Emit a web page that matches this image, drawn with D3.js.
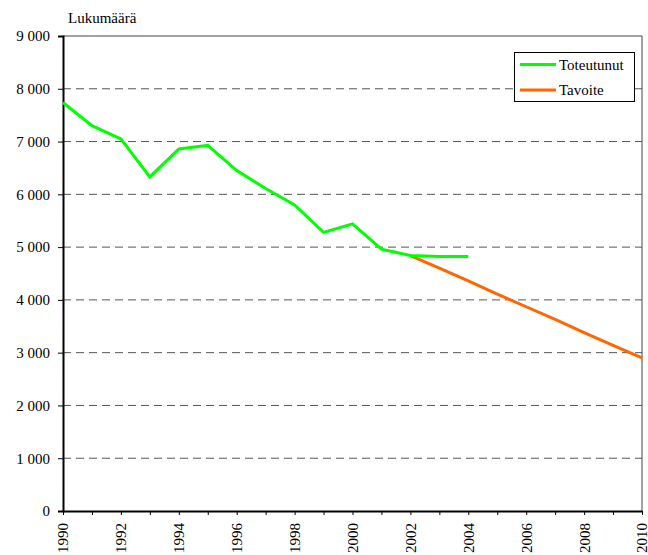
<!DOCTYPE html>
<html><head><meta charset="utf-8">
<script src="https://cdn.jsdelivr.net/npm/d3@7"></script>
<style>body{margin:0;background:#fff}svg{display:block}</style>
</head><body><svg id="c" width="648" height="555"></svg>
<script>
const actualYears = [1990,1991,1992,1993,1994,1995,1996,1997,1998,1999,2000,2001,2002,2003,2004];
const actualValues = [7740,7300,7050,6330,6860,6930,6450,6110,5800,5280,5440,4960,4840,4820,4820];
const targetYears = [2002,2003,2004,2005,2006,2007,2008,2009,2010];
const targetValues = [4840,4600,4360,4110,3870,3630,3380,3140,2900];
const yTicks = [0,1000,2000,3000,4000,5000,6000,7000,8000,9000];
const xTickLabels = [1990,1992,1994,1996,1998,2000,2002,2004,2006,2008,2010];
const seriesNames = ["Toteutunut","Tavoite"];
const seriesColors = ["#00ff00","#ff6600"];

const FONT = "'Liberation Serif'";
const svg = d3.select("#c");
const L=63, R=642, T=36, B=511;
const x = d3.scaleLinear().domain([1990,2010]).range([L,R]);
const y = d3.scaleLinear().domain([0,9000]).range([B,T]);
const fmt = v => v===0 ? "0" : d3.format(",")(v).replace(/,/g," ");

// gridlines
svg.append("g").selectAll("line").data(yTicks.filter(v=>v>0&&v<9000)).join("line")
  .attr("x1",L).attr("x2",R).attr("y1",d=>y(d)).attr("y2",d=>y(d))
  .attr("stroke","#555").attr("stroke-width",1).attr("stroke-dasharray","8,5");
// plot border top/right
svg.append("path").attr("d",`M${L},${T}H${R}V${B}`).attr("fill","none").attr("stroke","#444").attr("stroke-width",1);

// y axis
const ya = svg.append("g").attr("transform",`translate(${L},0)`)
  .call(d3.axisLeft(y).tickValues(yTicks).tickFormat(fmt).tickSize(5).tickPadding(8));
ya.attr("font-family",FONT).attr("font-size",15);
ya.select(".domain").attr("stroke","#000").attr("stroke-width",2);
ya.selectAll(".tick line").attr("stroke","#000");
ya.selectAll("text").style("font-family",FONT).style("font-size","15px").attr("fill","#000");

// x axis
const xa = svg.append("g").attr("transform",`translate(0,${B})`)
  .call(d3.axisBottom(x).tickValues(d3.range(1990,2011)).tickFormat(d=>xTickLabels.includes(d)?String(d):"").tickSize(4).tickSizeOuter(0));
xa.attr("font-family",FONT).attr("font-size",15);
xa.select(".domain").attr("stroke","#000").attr("stroke-width",2);
xa.selectAll(".tick line").attr("stroke","#000");
xa.selectAll("text").style("font-family",FONT).style("font-size","15px").attr("fill","#000")
  .attr("transform","rotate(-90)").attr("text-anchor","end").attr("x",-12).attr("y",0).attr("dy","0.33em");

// title
svg.append("text").attr("x",68).attr("y",23).style("font-family",FONT).style("font-size","15px").attr("fill","#000").text("Lukumäärä");

const line = d3.line().x(d=>x(d[0])).y(d=>y(d[1]));
svg.append("path").datum(targetYears.map((d,i)=>[d,targetValues[i]]))
  .attr("d",line).attr("fill","none").attr("stroke",seriesColors[1]).attr("stroke-width",3);
svg.append("path").datum(actualYears.map((d,i)=>[d,actualValues[i]]))
  .attr("d",line).attr("fill","none").attr("stroke",seriesColors[0]).attr("stroke-width",3);

// legend
const lg = svg.append("g");
lg.append("rect").attr("x",514.5).attr("y",52.5).attr("width",120).attr("height",49).attr("fill","#fff").attr("stroke","#000");
seriesNames.forEach((n,i)=>{
  const yy = 64.5 + i*25.5;
  lg.append("line").attr("x1",520).attr("x2",556).attr("y1",yy).attr("y2",yy).attr("stroke",seriesColors[i]).attr("stroke-width",3);
  lg.append("text").attr("x",559).attr("y",yy+5).style("font-family",FONT).style("font-size","15px").attr("fill","#000").text(n);
});
</script></body></html>
